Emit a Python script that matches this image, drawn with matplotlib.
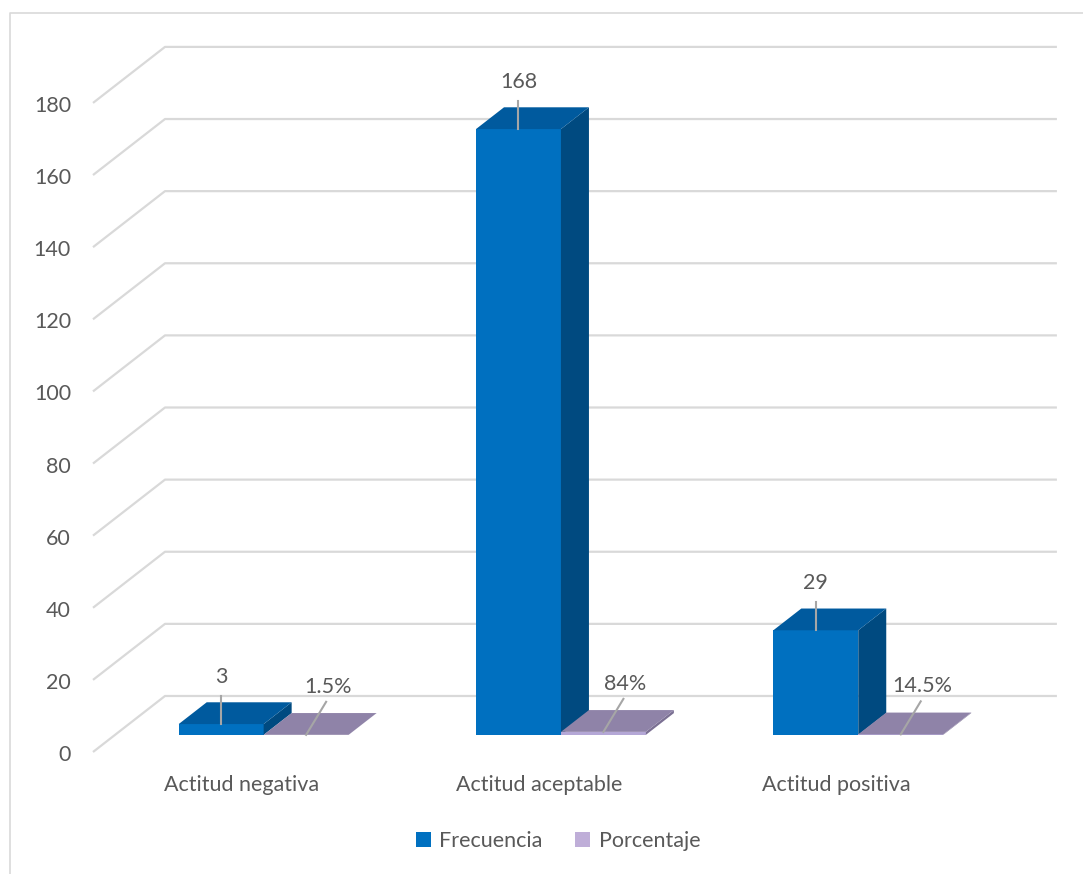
import matplotlib.pyplot as plt
from matplotlib.patches import Polygon, Patch
from matplotlib.lines import Line2D

plt.rcParams['font.family'] = ['Lato', 'DejaVu Sans']

categorias = ["Actitud negativa", "Actitud aceptable", "Actitud positiva"]
frecuencia = [3, 168, 29]
porcentaje = [0.015, 0.84, 0.145]
ticks_y = list(range(0, 181, 20))

TXT = "#595959"
GRID = "#d9d9d9"
LEADER = "#a6a6a6"
FS = 15.5
# front, top, side colours of each series
C_FREC = ("#0070c0", "#005a9e", "#004a80")
C_PORC = ("#b4a7d6", "#8f83a8", "#7b7093")

W, H = 1083, 874
fig = plt.figure(figsize=(W / 100, H / 100), dpi=100)
ax = fig.add_axes([0, 0, 1, 1])

# layout of the fake 3D box, in pixels
X0, Y0 = 93, 752          # front-left corner at value 0
PX = 297.3                # pixels per category
PY = 3.606                # pixels per unit of value
SLOPE = 0.778             # vertical/horizontal ratio of depth direction
DEPTH = 72                # wall depth (horizontal pixels)
BAR_FRONT, BAR_BACK = 22, 50

ax.set_xlim(-X0 / PX, (W - X0) / PX)
ax.set_ylim(-(H - Y0) / PY, Y0 / PY)
ax.axis("off")


def off(d):
    """depth offset of d horizontal pixels in data units"""
    return d / PX, d * SLOPE / PY


n = len(categorias)
wx, wy = off(DEPTH)

# back wall gridlines with diagonal side lines
for v in ticks_y:
    ax.plot([0, wx, n + wx], [v, v + wy, v + wy], color=GRID, lw=1.6,
            solid_capstyle="butt", zorder=1)
    ax.text(-22 / PX, v - 3 / PY, str(v), ha="right", va="center",
            fontsize=FS, color=TXT)

fx, fy = off(BAR_FRONT)
bx, by = off(BAR_BACK)
gap_w = 1.5
bw = 1 / (2 + gap_w)
g = gap_w * bw / 2


def caja(x, h, colores):
    front, top, side = colores
    x1 = x + bw
    ax.add_patch(Polygon([(x + fx, fy), (x1 + fx, fy), (x1 + fx, h + fy), (x + fx, h + fy)],
                         closed=True, fc=front, ec="none", zorder=3))
    ax.add_patch(Polygon([(x1 + fx, fy), (x1 + bx, by), (x1 + bx, h + by), (x1 + fx, h + fy)],
                         closed=True, fc=side, ec="none", zorder=3))
    ax.add_patch(Polygon([(x + fx, h + fy), (x1 + fx, h + fy), (x1 + bx, h + by), (x + bx, h + by)],
                         closed=True, fc=top, ec="none", zorder=3))


for i in range(n):
    xa = i + g
    xb = xa + bw
    caja(xa, frecuencia[i], C_FREC)
    caja(xb, porcentaje[i], C_PORC)

    # labels for frecuencia
    xc = xa + bw / 2 + fx
    top = frecuencia[i] + fy
    ax.plot([xc, xc], [top, top + 28 / PY], color=LEADER, lw=1.5, zorder=4)
    ax.text(xc, top + 47 / PY, str(frecuencia[i]), ha="center", va="center",
            fontsize=FS, color=TXT, zorder=5)

    # labels for porcentaje
    xc = xb + bw / 2 + fx
    base = porcentaje[i] + fy
    ax.plot([xc, xc + 20 / PX], [base, base + 33 / PY], color=LEADER, lw=1.5, zorder=4)
    ax.text(xc + 22 / PX, base + 48 / PY, "{:g}%".format(porcentaje[i] * 100),
            ha="center", va="center", fontsize=FS, color=TXT, zorder=5)

    ax.text(i + 0.5, -33 / PY, categorias[i], ha="center", va="center",
            fontsize=FS, color=TXT)

# chart area border (left and top edges)
fig.add_artist(Line2D([10 / W, 10 / W, 1], [0, 1 - 13 / H, 1 - 13 / H],
                      transform=fig.transFigure, color=GRID, lw=1.2))

handles = [Patch(fc=C_FREC[0], ec="none"), Patch(fc="#bfaed8", ec="none")]
fig.legend(handles, ["Frecuencia", "Porcentaje"], loc="center",
           bbox_to_anchor=(558 / W, 1 - 841 / H), ncol=2, frameon=False,
           fontsize=FS, labelcolor=TXT, handlelength=0.7, handleheight=0.7,
           handletextpad=0.4, columnspacing=1.5)

fig.savefig("out.png", dpi=100, facecolor="white")
